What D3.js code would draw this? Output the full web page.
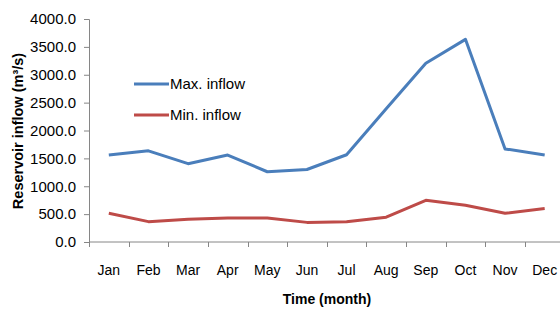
<!DOCTYPE html>
<html>
<head>
<meta charset="utf-8">
<script src="https://cdn.jsdelivr.net/npm/d3@7"></script>
<style>
  body { margin: 0; background: #fff; }
  text { font-family: "Liberation Sans", Arial, sans-serif; fill: #000; }
</style>
</head>
<body>
<div id="chart"></div>
<script>
const months = ['Jan', 'Feb', 'Mar', 'Apr', 'May', 'Jun', 'Jul', 'Aug', 'Sep', 'Oct', 'Nov', 'Dec']
const maxInflow = [1560, 1635, 1405, 1560, 1260, 1300, 1565, 2390, 3205, 3635, 1670, 1560]
const minInflow = [515, 365, 410, 430, 430, 352, 365, 445, 748, 658, 515, 600]
const yTicks = [0, 500, 1000, 1500, 2000, 2500, 3000, 3500, 4000]

const series = [
	{ name: 'Max. inflow', values: maxInflow, color: '#4A7EBB' },
	{ name: 'Min. inflow', values: minInflow, color: '#BE4B48' }
]

const width = 560
const height = 310
const axisColor = '#868686'

const svg = d3.select('#chart')
	.append('svg')
	.attr('width', width)
	.attr('height', height)

const x = d3.scaleBand()
	.domain(months)
	.range([89, 564.5])

const y = d3.scaleLinear()
	.domain([0, 4000])
	.range([242, 19])

// y axis
const yAxis = svg.append('g')
	.attr('transform', 'translate(89,0)')
	.call(d3.axisLeft(y).tickValues(yTicks).tickSize(5).tickPadding(8).tickFormat(d3.format('.1f')))

yAxis.selectAll('line, path').attr('stroke', axisColor)
yAxis.selectAll('text').style('font-size', '15px').style('font-family', '"Liberation Sans", Arial, sans-serif')

// x axis, ticks sit on band edges
const xAxis = svg.append('g')
	.attr('transform', 'translate(0,242)')

xAxis.append('line')
	.attr('x1', 89)
	.attr('x2', width)
	.attr('stroke', axisColor)

xAxis.selectAll('line.tick')
	.data(months)
	.enter()
	.append('line')
	.attr('class', 'tick')
	.attr('x1', d => Math.round(x(d)) + 0.5)
	.attr('x2', d => Math.round(x(d)) + 0.5)
	.attr('y1', 0)
	.attr('y2', 5)
	.attr('stroke', axisColor)

xAxis.selectAll('text')
	.data(months)
	.enter()
	.append('text')
	.attr('x', d => x(d) + x.bandwidth() / 2)
	.attr('y', 33)
	.attr('text-anchor', 'middle')
	.style('font-size', '14px')
	.text(d => d)

// lines
const line = d3.line()
	.x((d, i) => x(months[i]) + x.bandwidth() / 2)
	.y(d => y(d))

svg.selectAll('path.series')
	.data(series)
	.enter()
	.append('path')
	.attr('class', 'series')
	.attr('d', d => line(d.values))
	.attr('fill', 'none')
	.attr('stroke', d => d.color)
	.attr('stroke-width', 3)
	.attr('stroke-linejoin', 'round')

// legend
const legend = svg.selectAll('g.legend')
	.data(series)
	.enter()
	.append('g')
	.attr('class', 'legend')
	.attr('transform', (d, i) => `translate(134, ${84 + i * 31})`)

legend.append('line')
	.attr('x1', 0)
	.attr('x2', 35)
	.attr('stroke', d => d.color)
	.attr('stroke-width', 3)

legend.append('text')
	.attr('x', 36)
	.attr('y', 5)
	.style('font-size', '15px')
	.text(d => d.name)

// axis titles
svg.append('text')
	.attr('transform', 'translate(23,131) rotate(-90)')
	.attr('text-anchor', 'middle')
	.style('font-size', '14.5px')
	.style('font-weight', 'bold')
	.text('Reservoir inflow (m³/s)')

svg.append('text')
	.attr('x', 327)
	.attr('y', 304)
	.attr('text-anchor', 'middle')
	.style('font-size', '14px')
	.style('font-weight', 'bold')
	.text('Time (month)')
</script>
</body>
</html>
